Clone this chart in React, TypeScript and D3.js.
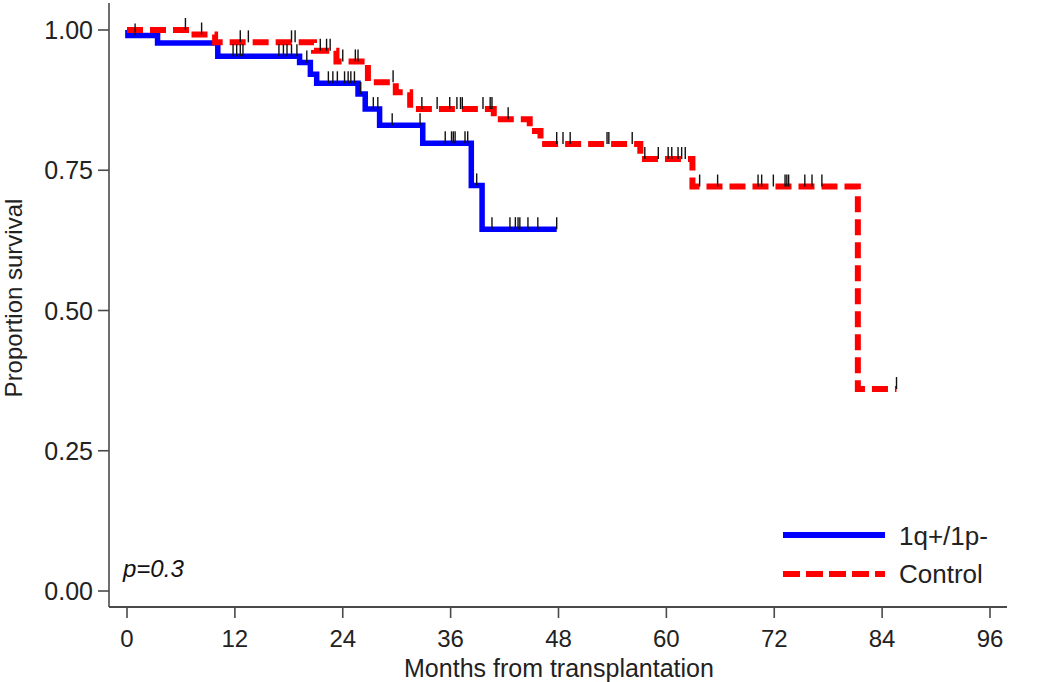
import React from "react";
import * as d3 from "d3";

const xTicks = [0, 12, 24, 36, 48, 60, 72, 84, 96];
const yTicks = [0, 0.25, 0.5, 0.75, 1.0];

// 1q+/1p- group: event times and survival after each event
const blueTimes = [0.1, 3.4, 10.1, 19.2, 20.4, 21.1, 25.7, 26.5, 28.1, 32.9, 38.3, 39.5];
const blueSurv = [0.99, 0.977, 0.953, 0.942, 0.921, 0.905, 0.886, 0.859, 0.83, 0.798, 0.723, 0.645];
const blueEnd = 47.8;
const blueCensor = [0.9, 11.8, 12.2, 12.6, 12.9, 16.9, 17.4, 17.8, 18.3, 18.9, 20.0, 22.4, 22.9, 23.4, 24.2, 24.6, 24.9, 25.3, 26.0, 27.4, 27.9, 29.5, 32.6, 35.4, 36.1, 36.3, 36.5, 37.6, 37.9, 38.9, 40.6, 42.6, 43.2, 43.5, 43.7, 44.6, 45.7, 47.8];

// Control group
const redTimes = [7.0, 9.8, 20.8, 23.3, 26.8, 29.9, 31.5, 40.8, 44.8, 46.0, 57.1, 62.9, 81.3];
const redSurv = [0.992, 0.978, 0.963, 0.944, 0.907, 0.889, 0.859, 0.841, 0.82, 0.797, 0.77, 0.721, 0.36];
const redEnd = 85.6;
const redCensor = [6.5, 8.3, 12.6, 13.5, 18.3, 18.7, 21.5, 22.2, 22.6, 24.0, 25.4, 25.7, 29.6, 32.8, 34.5, 35.9, 36.7, 37.1, 37.3, 39.6, 40.4, 40.6, 42.4, 47.8, 48.5, 49.3, 53.4, 53.6, 56.2, 57.6, 59.1, 60.2, 60.6, 61.3, 61.7, 62.1, 63.7, 65.7, 70.2, 70.6, 71.9, 73.2, 73.4, 73.6, 75.4, 76.2, 77.3, 85.6];

const legendLabels = ["1q+/1p-", "Control"];

const FONT = "'Liberation Sans', Arial, Helvetica, sans-serif";

function kmPoints(times: number[], surv: number[], end: number): [number, number][] {
  const pts: [number, number][] = [[0, 1]];
  times.forEach((t, i) => pts.push([t, surv[i]]));
  pts.push([end, surv[surv.length - 1]]);
  return pts;
}

function survAt(times: number[], surv: number[], t: number): number {
  let v = 1;
  times.forEach((tt, i) => {
    if (tt <= t) v = surv[i];
  });
  return v;
}

export default function App() {
  const W = 1050;
  const H = 682;
  const x = d3.scaleLinear().domain([0, 96]).range([127, 990]);
  const y = d3.scaleLinear().domain([0, 1]).range([591, 30]);
  const line = d3
    .line<[number, number]>()
    .x((d) => x(d[0]))
    .y((d) => y(d[1]))
    .curve(d3.curveStepAfter);

  const bluePath = line(kmPoints(blueTimes, blueSurv, blueEnd)) || "";
  const redPath = line(kmPoints(redTimes, redSurv, redEnd)) || "";

  const axisX = 109;
  const axisY = 607;
  const axisColor = "#4a4a4a";

  return (
    <svg
      width={W}
      height={H}
      style={{ position: "absolute", left: 0, top: 0, background: "#fff" }}
    >
      <rect x={0} y={0} width={W} height={H} fill="#fff" />
      {/* y axis */}
      <line x1={axisX} x2={axisX} y1={3} y2={axisY} stroke={axisColor} strokeWidth={1.6} />
      {yTicks.map((t) => (
        <g key={"yt" + t}>
          <line x1={axisX - 11} x2={axisX} y1={y(t)} y2={y(t)} stroke={axisColor} strokeWidth={1.6} />
          <text
            x={93}
            y={y(t) + 9}
            textAnchor="end"
            fontFamily={FONT}
            fontSize={25}
            fill="#222"
          >
            {t.toFixed(2)}
          </text>
        </g>
      ))}
      <text
        transform={`translate(22,298) rotate(-90)`}
        textAnchor="middle"
        fontFamily={FONT}
        fontSize={24}
        fill="#222"
      >
        Proportion survival
      </text>

      {/* x axis */}
      <line x1={axisX} x2={1007} y1={axisY} y2={axisY} stroke={axisColor} strokeWidth={2} />
      {xTicks.map((t) => (
        <g key={"xt" + t}>
          <line x1={x(t)} x2={x(t)} y1={axisY} y2={axisY + 11} stroke={axisColor} strokeWidth={1.6} />
          <text
            x={x(t)}
            y={647}
            textAnchor="middle"
            fontFamily={FONT}
            fontSize={24}
            fill="#222"
          >
            {t}
          </text>
        </g>
      ))}
      <text x={559} y={677} textAnchor="middle" fontFamily={FONT} fontSize={25} fill="#222">
        Months from transplantation
      </text>

      {/* curves */}
      <path d={bluePath} fill="none" stroke="#0000ff" strokeWidth={5.5} />
      <path
        d={redPath}
        fill="none"
        stroke="#ff0000"
        strokeWidth={6}
        strokeDasharray="16 7"
      />

      {/* censor marks */}
      {blueCensor.map((t, i) => {
        const v = survAt(blueTimes, blueSurv, t);
        return (
          <line
            key={"bc" + i}
            x1={x(t)}
            x2={x(t)}
            y1={y(v) - 12}
            y2={y(v)}
            stroke="#111"
            strokeWidth={1.4}
          />
        );
      })}
      {redCensor.map((t, i) => {
        const v = survAt(redTimes, redSurv, t);
        return (
          <line
            key={"rc" + i}
            x1={x(t)}
            x2={x(t)}
            y1={y(v) - 12}
            y2={y(v)}
            stroke="#111"
            strokeWidth={1.4}
          />
        );
      })}

      {/* p value */}
      <text x={123} y={577} fontFamily={FONT} fontSize={24} fontStyle="italic" fill="#111">
        p=0.3
      </text>

      {/* legend */}
      <line x1={783} x2={885} y1={535} y2={535} stroke="#0000ff" strokeWidth={6} />
      <text x={899} y={545} fontFamily={FONT} fontSize={26} fill="#222">
        {legendLabels[0]}
      </text>
      <line
        x1={783}
        x2={885}
        y1={574}
        y2={574}
        stroke="#ff0000"
        strokeWidth={6}
        strokeDasharray="17 6"
      />
      <text x={899} y={583} fontFamily={FONT} fontSize={26} fill="#222">
        {legendLabels[1]}
      </text>
    </svg>
  );
}
